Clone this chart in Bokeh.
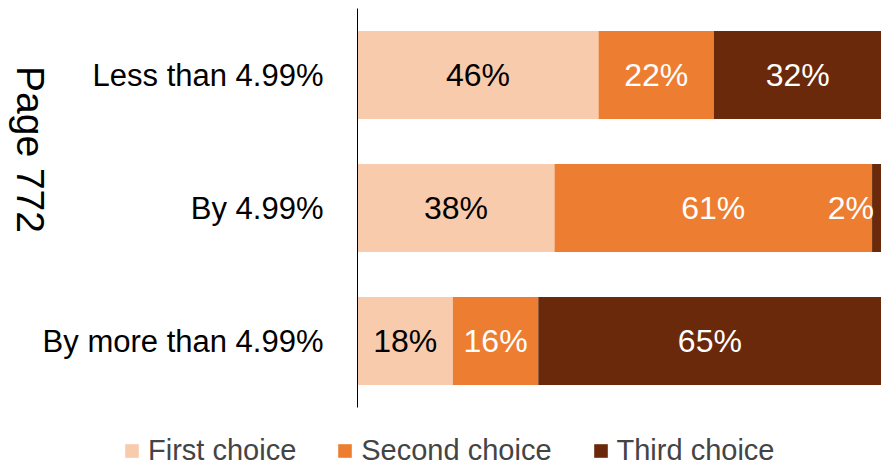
from bokeh.plotting import figure
from bokeh.models import ColumnDataSource, Range1d, Legend, LegendItem, Label
from bokeh.core.properties import value
from bokeh.embed import file_html
from bokeh.resources import INLINE

categories = ["Less than 4.99%", "By 4.99%", "By more than 4.99%"]
series = ["First choice", "Second choice", "Third choice"]
first = [46.0, 37.6, 18.2]
second = [22.0, 60.6, 16.3]
third = [32.0, 1.8, 65.5]
labels_first = ["46%", "38%", "18%"]
labels_second = ["22%", "61%", "16%"]
labels_third = ["32%", "2%", "65%"]
colors = ["#F8CBAD", "#ED7D31", "#6A290B"]
label_colors = ["black", "white", "white"]
title_text = "Page 772"

FONT = "Liberation Sans"
W, H = 881, 467
AXIS_PX = 357          # pixel of the value axis (x=0)
X_END = 100.0
PX_PER_UNIT_X = (W - AXIS_PX) / X_END
BAND_PX = 133
TOP_PAD_PX = 8

x_start = -AXIS_PX / PX_PER_UNIT_X
n = len(categories)
y_end = n + TOP_PAD_PX / BAND_PX
y_start = y_end - H / BAND_PX

p = figure(
    x_range=Range1d(x_start, X_END), y_range=Range1d(y_start, y_end),
    width=W, height=H,
    min_border_left=0, min_border_right=0, min_border_top=0, min_border_bottom=0,
    output_backend="svg", toolbar_location=None,
)
p.axis.visible = False
p.grid.visible = False
p.outline_line_color = None

# category positions (top to bottom)
ypos = [n - i - 0.5 for i in range(n)]

vals = [first, second, third]
labs = [labels_first, labels_second, labels_third]
legend_items = []
starts = [0.0] * n
for i, name in enumerate(series):
    ends = [s + v for s, v in zip(starts, vals[i])]
    src = ColumnDataSource(dict(
        y=ypos, left=starts, right=ends,
        mid=[(s + e) / 2 for s, e in zip(starts, ends)],
        lab=labs[i],
        xoff=[-26 if v < 5 else 0 for v in vals[i]],
    ))
    r = p.hbar(y="y", left="left", right="right", height=0.66, source=src,
               fill_color=colors[i], line_color=None)
    p.text(x="mid", y="y", text="lab", x_offset="xoff", source=src,
           text_align="center", text_baseline="middle",
           text_font=value(FONT), text_font_size="32px", text_color=label_colors[i])
    legend_items.append(LegendItem(label=name, renderers=[r]))
    starts = ends

# category axis: line + labels
p.segment(x0=[0], y0=[0], x1=[0], y1=[n], line_color="black", line_width=1)
cat_src = ColumnDataSource(dict(x=[0] * n, y=ypos, t=categories))
p.text(x="x", y="y", text="t", source=cat_src, x_offset=-34,
       text_align="right", text_baseline="middle",
       text_font=value(FONT), text_font_size="31px", text_color="black")

legend = Legend(items=legend_items, orientation="horizontal",
                location=(123, 0), padding=0, margin=0, spacing=40,
                label_standoff=8, glyph_width=17, glyph_height=17,
                label_text_font=FONT, label_text_font_size="29px",
                border_line_color=None, background_fill_alpha=0)
p.add_layout(legend, "center")

# rotated side title
tx = (30 - AXIS_PX) / PX_PER_UNIT_X
ty = y_end - 149 / BAND_PX
lbl = Label(x=tx, y=ty, text=title_text,
            angle=-1.5707963, text_align="center", text_baseline="middle",
            text_font=FONT, text_font_size="39px", text_color="black")
p.add_layout(lbl)

open("out.html", "w").write(file_html(p, INLINE))
